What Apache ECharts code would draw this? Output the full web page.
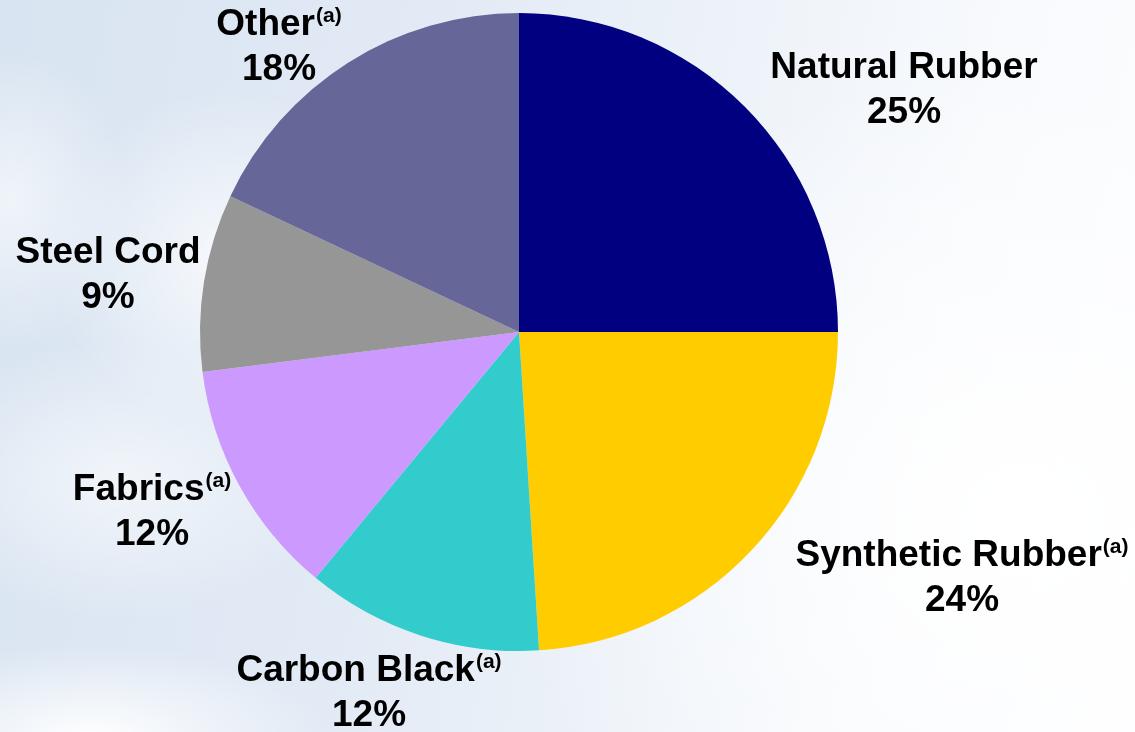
<!DOCTYPE html>
<html>
<head>
<meta charset="utf-8">
<script src="https://cdn.jsdelivr.net/npm/echarts@6/dist/echarts.min.js"></script>
<style>
  html, body { margin: 0; padding: 0; width: 1135px; height: 732px; overflow: hidden; }
  body {
    background:
      radial-gradient(ellipse 240px 90px at 90px 735px, rgba(255,255,255,0.95), rgba(255,255,255,0)),
      radial-gradient(ellipse 180px 170px at 230px 260px, rgba(255,255,255,0.75), rgba(255,255,255,0)),
      radial-gradient(ellipse 120px 150px at 10px 200px, rgba(255,255,255,0.6), rgba(255,255,255,0)),
      radial-gradient(ellipse 220px 140px at 120px 480px, rgba(255,255,255,0.6), rgba(255,255,255,0)),
      radial-gradient(ellipse 520px 460px at 1020px 520px, rgba(255,255,255,1), rgba(255,255,255,0)),
      linear-gradient(100deg, #d8e4f1 0%, #e2eaf5 35%, #eef3f9 60%, #f8fafd 80%, #fcfdff 100%);
  }
  #chart { width: 1135px; height: 732px; }
</style>
</head>
<body>
<div id="chart"></div>
<script>
const categories = ['Natural Rubber', 'Synthetic Rubber', 'Carbon Black', 'Fabrics', 'Steel Cord', 'Other'];
const values = [25, 24, 12, 12, 9, 18];
const footnotes = ['', '(a)', '(a)', '(a)', '', '(a)'];

const colors = ['#000080', '#FFCC00', '#33CCCC', '#CC99FF', '#969696', '#666699'];
// label block centres (layout, px)
const labelPos = [[904, 90], [962, 578], [369, 693], [152, 512], [108, 275], [279, 47]];

const chart = echarts.init(document.getElementById('chart'), null, { renderer: 'canvas' });

const font = "'Liberation Sans', Arial, Helvetica, sans-serif";

chart.setOption({
  backgroundColor: 'transparent',
  animation: false,
  series: [{
    type: 'pie',
    center: [519, 332],
    radius: 319,
    startAngle: 90,
    clockwise: true,
    silent: true,
    itemStyle: { borderWidth: 0 },
    labelLine: { show: false },
    label: {
      show: true,
      position: 'inside',
      align: 'center',
      formatter: function (p) {
        const note = footnotes[p.dataIndex];
        return '{n|' + p.name + '}' + (note ? '{s|' + note + '}' : '') + '\n{v|' + p.value + '%}';
      },
      rich: {
        n: { fontFamily: font, fontSize: 37, fontWeight: 'bold', color: '#000', lineHeight: 45 },
        s: { fontFamily: font, fontSize: 21, fontWeight: 'bold', color: '#000', lineHeight: 45, verticalAlign: 'top', padding: [4, 0, 0, 1] },
        v: { fontFamily: font, fontSize: 37, fontWeight: 'bold', color: '#000', lineHeight: 45 }
      }
    },
    labelLayout: function (params) {
      const pos = labelPos[params.dataIndex];
      return { x: pos[0], y: pos[1], align: 'center', verticalAlign: 'middle' };
    },
    data: categories.map(function (c, i) {
      return { name: c, value: values[i], itemStyle: { color: colors[i] } };
    })
  }]
});
</script>
</body>
</html>
